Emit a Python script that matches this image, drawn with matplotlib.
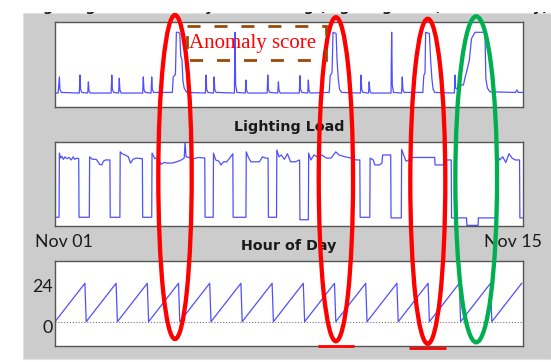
import numpy as np
import matplotlib
matplotlib.use("Agg")
import matplotlib.pyplot as plt
from matplotlib.patches import Rectangle, Ellipse

# ---------------- data ----------------
# time in days since Nov 01 00:00
anomaly_t = [0.00, 0.10, 0.14, 0.16, 0.20, 0.78, 0.80, 0.82, 0.86, 1.05, 1.07, 1.09, 1.13,
             1.80, 1.82, 1.84, 1.88, 2.04, 2.06, 2.08, 2.12, 2.81, 2.83, 2.85, 2.89,
             3.08, 3.10, 3.12, 3.16, 3.76, 3.79, 3.86, 3.89, 3.95, 4.00, 4.03, 4.07, 4.10,
             4.14, 4.22, 4.82, 4.84, 4.86, 4.90, 5.08, 5.10, 5.12, 5.16, 5.75, 5.77, 5.79,
             5.83, 6.10, 6.12, 6.14, 6.18, 6.80, 6.82, 6.84, 6.88, 7.14, 7.16, 7.18, 7.22,
             7.83, 7.85, 7.87, 7.91, 8.10, 8.12, 8.14, 8.18, 8.79, 8.82, 8.88, 8.91, 9.01,
             9.04, 9.08, 9.12, 9.19, 9.79, 9.81, 9.83, 9.87, 10.05, 10.07, 10.09, 10.13,
             10.77, 10.79, 10.81, 10.85, 11.11, 11.13, 11.15, 11.19, 11.79, 11.82, 11.86,
             11.88, 12.00, 12.04, 12.08, 12.12, 12.17, 12.80, 12.82, 12.84, 12.92, 13.02,
             13.09, 13.14, 13.22, 13.28, 13.35, 13.42, 13.46, 13.78, 13.81, 13.86, 13.94,
             14.76, 14.80, 14.85, 15.00]
anomaly_v = [0.02, 0.02, 0.28, 0.08, 0.03, 0.02, 0.31, 0.08, 0.03, 0.02, 0.20, 0.06, 0.02,
             0.02, 0.31, 0.08, 0.03, 0.02, 0.26, 0.07, 0.02, 0.02, 0.28, 0.08, 0.03,
             0.02, 0.28, 0.08, 0.03, 0.03, 0.28, 0.32, 1.00, 1.00, 0.98, 0.62, 0.55, 0.22,
             0.10, 0.03, 0.02, 0.31, 0.08, 0.03, 0.02, 0.28, 0.08, 0.03, 0.02, 1.00, 0.15,
             0.03, 0.02, 0.23, 0.06, 0.02, 0.02, 0.31, 0.08, 0.03, 0.02, 0.20, 0.06, 0.02,
             0.02, 0.30, 0.08, 0.03, 0.02, 0.23, 0.06, 0.02, 0.03, 0.30, 0.35, 1.00, 0.98,
             0.55, 0.25, 0.08, 0.03, 0.02, 0.31, 0.08, 0.03, 0.02, 0.20, 0.06, 0.02,
             0.02, 1.00, 0.15, 0.03, 0.02, 0.28, 0.08, 0.03, 0.03, 0.30, 0.35,
             1.00, 0.98, 0.55, 0.25, 0.08, 0.03, 0.02, 0.31, 0.10, 0.08, 0.15,
             0.15, 0.26, 0.42, 0.55, 0.90, 0.96, 1.00, 1.00, 0.25, 0.10, 0.04,
             0.03, 0.07, 0.03, 0.03]

light_t = [0.00, 0.13, 0.14, 0.18, 0.22, 0.27, 0.32, 0.38, 0.45, 0.52, 0.58, 0.63, 0.70, 0.76,
           0.77, 1.10, 1.11, 1.20, 1.32, 1.38, 1.43, 1.50, 1.55, 1.62, 1.76, 1.77, 2.08,
           2.09, 2.15, 2.25, 2.35, 2.42, 2.50, 2.60, 2.80, 2.81, 3.10, 3.11, 3.20, 3.30,
           3.40, 3.50, 3.60, 3.75, 3.90, 4.05, 4.14, 4.17, 4.20, 4.30, 4.45, 4.60, 4.80,
           4.81, 5.07, 5.08, 5.15, 5.25, 5.32, 5.40, 5.50, 5.60, 5.70, 5.71, 6.12, 6.13,
           6.20, 6.28, 6.40, 6.55, 6.65, 6.75, 6.83, 6.84, 7.10, 7.11, 7.18, 7.25, 7.35,
           7.45, 7.55, 7.70, 7.84, 7.85, 8.12, 8.13, 8.20, 8.30, 8.40, 8.55, 8.70, 8.85,
           9.00, 9.10, 9.30, 9.50, 9.66, 9.77, 9.78, 10.09, 10.10, 10.20, 10.25, 10.40,
           10.48, 10.50, 10.76, 10.77, 11.10, 11.11, 11.16, 11.25, 11.35, 11.45, 11.70,
           12.00, 12.17, 12.18, 12.45, 12.46, 12.70, 12.71, 13.19, 13.20, 13.56, 13.57,
           14.15, 14.16, 14.25, 14.35, 14.45, 14.55, 14.65, 14.75, 14.89, 14.90, 15.00]
light_v = [0.00, 0.00, 1.03, 0.95, 0.98, 0.93, 0.97, 0.94, 0.96, 0.92, 0.97, 0.93, 0.95, 0.94,
           0.00, 0.00, 0.97, 0.93, 0.93, 0.89, 0.85, 0.84, 0.90, 0.92, 0.92, 0.00, 0.00,
           1.05, 1.02, 1.00, 0.97, 0.87, 0.93, 0.95, 0.94, 0.00, 0.00, 1.03, 0.94, 0.96,
           0.85, 0.88, 0.87, 0.87, 0.89, 0.92, 0.95, 1.21, 0.97, 0.96, 0.94, 0.96, 0.95,
           0.00, 0.00, 1.03, 0.92, 0.90, 0.84, 0.89, 0.89, 0.95, 1.02, 0.00, 0.00, 1.05,
           0.96, 0.89, 0.89, 0.89, 0.97, 0.95, 0.95, 0.00, 0.00, 1.08, 0.97, 1.00, 0.93,
           1.02, 0.89, 0.89, 0.92, -0.04, -0.04, 1.03, 0.92, 1.00, 0.97, 1.00, 0.95, 0.95,
           1.05, 1.00, 0.97, 0.95, 0.92, 0.92, 0.00, 0.00, 0.95, 0.92, 0.84, 0.84,
           0.87, 1.00, 1.00, -0.01, -0.01, 1.09, 1.02, 0.90, 0.92, 0.96, 0.96,
           0.96, 0.96, 0.84, 0.84, 0.92, 0.92, -0.01, -0.01, -0.13, -0.13, -0.01,
           -0.01, 1.03, 0.92, 0.97, 0.88, 1.02, 0.95, 0.92, 0.92, -0.01, -0.01]

hour_profile = [0, 1, 2, 3, 4, 5, 6, 7, 8, 9, 10, 11, 12, 13, 14, 15, 16, 17, 18, 19, 20, 21, 22, 23]
n_days = 15
date_labels = ["Nov 01", "Nov 15"]
hour_ticks = [24, 0]
hour_tick_labels = ["24", "0"]
panel_titles = ["Lighting Load Anomaly Score using (Lighting Load, Hour of Day)",
                "Lighting Load", "Hour of Day"]
box_label = "Anomaly score"

hour_v = np.tile(hour_profile, n_days)
hour_t = np.arange(len(hour_v)) / 24.0

# ---------------- figure ----------------
W, H = 551, 362
fig = plt.figure(figsize=(W / 100, H / 100), dpi=100)
fig.patch.set_facecolor("white")

def frac_rect(x0, y0, x1, y1):
    return [x0 / W, 1 - y1 / H, (x1 - x0) / W, (y1 - y0) / H]

# gray MATLAB figure panel
fig.patches.append(Rectangle((22.7 / W, 1 - 359.3 / H), (W - 22.7) / W, (359.3 - 13) / H,
                             transform=fig.transFigure, facecolor="#cccccc",
                             edgecolor="#e2e2e2", lw=0.8, zorder=-1))

LINE = "#4f4fff"
FRAME = "#555555"
TITLE_KW = dict(fontsize=10.3, fontweight="bold", family="DejaVu Sans", color="#1a1a1a", pad=7.9)

def style(ax):
    ax.set_facecolor("white")
    ax.set_xticks([])
    ax.set_yticks([])
    for s in ax.spines.values():
        s.set_color(FRAME)
        s.set_linewidth(1.0)
    ax.set_xlim(0, n_days)

ax1 = fig.add_axes(frac_rect(55, 22, 523, 107.3))
ax2 = fig.add_axes(frac_rect(55, 141.7, 523, 226))
ax3 = fig.add_axes(frac_rect(55, 261, 523, 346))
for ax in (ax1, ax2, ax3):
    style(ax)

ax1.plot(anomaly_t, anomaly_v, color=LINE, lw=0.9)
ax1.set_ylim(-0.21, 1.166)
ax1.set_title(panel_titles[0], **TITLE_KW)

ax2.plot(light_t, light_v, color=LINE, lw=0.9)
ax2.set_ylim(-0.14, 1.213)
ax2.set_title(panel_titles[1], **TITLE_KW)

ax3.plot(hour_t, hour_v, color=LINE, lw=0.9)
ax3.axhline(0, color="#777777", lw=0.8, ls=(0, (1, 1.6)))
ax3.set_ylim(-14.55, 36.35)
ax3.set_title(panel_titles[2], **TITLE_KW)

CAL = dict(family="Lato", fontsize=12.8, color="#1a1a1a")
for v, lab in zip(hour_ticks, hour_tick_labels):
    ax3.annotate(lab, xy=(0, v), xycoords=("axes fraction", "data"),
                 xytext=(-2.3, -10.8), textcoords="offset pixels",
                 ha="right", va="baseline", **CAL)
ax3.annotate(date_labels[0], xy=(0, 1), xycoords=("data", "axes fraction"),
             xytext=(-20, 13.7), textcoords="offset pixels", ha="left", va="baseline", **CAL)
ax3.annotate(date_labels[1], xy=(n_days, 1), xycoords=("data", "axes fraction"),
             xytext=(18.7, 13.7), textcoords="offset pixels", ha="right", va="baseline", **CAL)

# white strip hiding the cut-off top of the figure title
fig.patches.append(Rectangle((0, 1 - 11.6 / H), 1, 11.6 / H, transform=fig.transFigure,
                             facecolor="white", edgecolor="none", zorder=2))

# ---------------- annotation overlay (pixel coordinates) ----------------
ov = fig.add_axes([0, 0, 1, 1], zorder=10)
ov.set_xlim(0, W)
ov.set_ylim(H, 0)
ov.axis("off")
ov.patch.set_alpha(0)

RED = "#ff0000"
GREEN = "#00b050"
for (cx, cy, w, h, c) in [(175.0, 177.0, 33.4, 324, RED),
                          (335.9, 179.2, 34.3, 324, RED),
                          (427.8, 181.3, 35.0, 325, RED),
                          (476.2, 179.3, 41.7, 326, GREEN)]:
    ov.add_patch(Ellipse((cx, cy), w, h, fill=False, ec=c, lw=3.1))
ov.plot([318.3, 354.3], [345.7, 345.7], color=RED, lw=2.0, solid_capstyle="butt")
ov.plot([409.3, 445.7], [347.7, 347.7], color=RED, lw=2.0, solid_capstyle="butt")

ov.add_patch(Rectangle((187, 26), 139, 34, fill=False, ec="#9c4a0a", lw=2.0,
                       ls=(0, (4.7, 5.0))))
ov.text(252.5, 48.3, box_label, color=RED, family="Liberation Serif", fontsize=15,
        ha="center", va="baseline")

fig.savefig("out.png", dpi=100)
